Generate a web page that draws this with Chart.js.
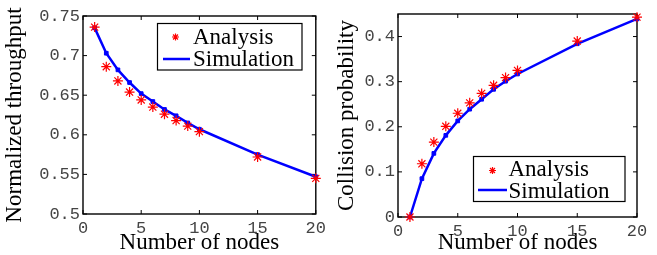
<!DOCTYPE html>
<html><head><meta charset="utf-8">
<script src="https://cdn.jsdelivr.net/npm/chart.js@4/dist/chart.umd.min.js"></script>
<style>
html,body{margin:0;padding:0;background:#fff;}
#wrap{position:relative;width:657px;height:255px;overflow:hidden;background:#fff;}
#c1{position:absolute;left:0;top:0;}
#c2{position:absolute;left:330px;top:0;}
</style></head><body>
<div id="wrap"><canvas id="c1" width="330" height="255"></canvas><canvas id="c2" width="327" height="255"></canvas></div>
<script>
// ---- data ----
const nodes = [1, 2, 3, 4, 5, 6, 7, 8, 9, 10, 15, 20];
const throughputAnalysis   = [0.736, 0.686, 0.668, 0.654, 0.644, 0.635, 0.626, 0.618, 0.611, 0.604, 0.572, 0.545];
const throughputSimulation = [0.735, 0.703, 0.682, 0.666, 0.652, 0.642, 0.632, 0.624, 0.615, 0.607, 0.575, 0.547];
const collisionAnalysis    = [0.000, 0.118, 0.166, 0.201, 0.230, 0.253, 0.274, 0.292, 0.309, 0.325, 0.390, 0.443];
const collisionSimulation  = [0.000, 0.085, 0.141, 0.181, 0.213, 0.239, 0.261, 0.283, 0.301, 0.317, 0.384, 0.439];
const xTickLabels = ['0', '5', '10', '15', '20'];
const throughputTickLabels = ['0.5', '0.55', '0.6', '0.65', '0.7', '0.75'];
const collisionTickLabels = ['0', '0.1', '0.2', '0.3', '0.4'];
const seriesNames = ['Analysis', 'Simulation'];
const xTitle = 'Number of nodes';
const throughputTitle = 'Normalized throughput';
const collisionTitle = 'Collision probability';

// ---- style ----
const MONO = "'Liberation Mono', 'Courier New', monospace";
const SERIF = "'Liberation Serif', 'Times New Roman', serif";
const RED = '#ff0000', BLUE = '#0000ff';

function pts(ys) { return nodes.map((n, i) => ({x: n, y: ys[i]})); }

function drawStar(ctx, x, y, r, lw, color) {
  ctx.save();
  ctx.strokeStyle = color; ctx.lineWidth = lw;
  ctx.beginPath();
  ctx.moveTo(x - r, y); ctx.lineTo(x + r, y);
  ctx.moveTo(x, y - r); ctx.lineTo(x, y + r);
  const d = r * Math.SQRT1_2;
  ctx.moveTo(x - d, y - d); ctx.lineTo(x + d, y + d);
  ctx.moveTo(x - d, y + d); ctx.lineTo(x + d, y - d);
  ctx.stroke();
  ctx.restore();
}

const frameTicks = {
  id: 'frameTicks',
  beforeDatasetsDraw(chart) {
    const {ctx, chartArea: a, scales: {x, y}} = chart;
    const L = 4;
    ctx.save();
    ctx.strokeStyle = '#000';
    ctx.lineWidth = 1;
    ctx.beginPath();
    x.ticks.forEach(t => {
      const px = x.getPixelForValue(t.value);
      ctx.moveTo(px, a.bottom); ctx.lineTo(px, a.bottom - L);
      ctx.moveTo(px, a.top); ctx.lineTo(px, a.top + L);
    });
    y.ticks.forEach(t => {
      const py = y.getPixelForValue(t.value);
      ctx.moveTo(a.left, py); ctx.lineTo(a.left + L, py);
      ctx.moveTo(a.right, py); ctx.lineTo(a.right - L, py);
    });
    ctx.stroke();
    ctx.lineWidth = 1.4;
    ctx.strokeRect(a.left, a.top, a.right - a.left, a.bottom - a.top);
    ctx.restore();
  }
};

const boxLegend = {
  id: 'boxLegend',
  afterDraw(chart, args, o) {
    const {ctx} = chart;
    const ds = chart.data.datasets;
    ctx.save();
    ctx.fillStyle = '#fff';
    ctx.fillRect(o.x, o.y, o.w, o.h);
    ctx.strokeStyle = '#000'; ctx.lineWidth = 1.2;
    ctx.strokeRect(o.x, o.y, o.w, o.h);
    drawStar(ctx, o.starX, o.starY, 3.5, 1.2, ds[0].borderColor);
    ctx.strokeStyle = ds[1].borderColor; ctx.lineWidth = 2.5;
    ctx.beginPath(); ctx.moveTo(o.lineX0, o.lineY); ctx.lineTo(o.lineX1, o.lineY); ctx.stroke();
    ctx.fillStyle = '#000';
    ctx.font = '23px ' + SERIF;
    ctx.textBaseline = 'alphabetic'; ctx.textAlign = 'left';
    ctx.fillText(ds[0].label, o.textX, o.base0);
    ctx.fillText(ds[1].label, o.textX, o.base1);
    ctx.restore();
  }
};

function makeChart(id, analysis, simulation, yMin, yMax, yStep, yLabels, yTitle, geom) {
  return new Chart(document.getElementById(id), {
    type: 'scatter',
    data: {
      datasets: [
        {label: seriesNames[0], data: pts(analysis), showLine: false, pointStyle: 'star',
         pointRadius: 5, pointBorderWidth: 1.2, borderColor: RED, backgroundColor: RED, clip: false},
        {label: seriesNames[1], data: pts(simulation), showLine: true, borderColor: BLUE, backgroundColor: BLUE,
         borderWidth: 2.5, pointStyle: 'rect', pointRadius: 2.6, pointBorderWidth: 1, tension: 0, clip: false}
      ]
    },
    options: {
      responsive: false, animation: false, devicePixelRatio: 1, events: [],
      layout: {padding: {top: geom.top, right: geom.right, left: 0, bottom: 0}},
      plugins: {legend: {display: false}, tooltip: {enabled: false}, boxLegend: geom.legend},
      scales: {
        x: {
          type: 'linear', position: 'bottom', min: 0, max: 20,
          grid: {display: false, drawTicks: false}, border: {display: false},
          ticks: {stepSize: 5, autoSkip: false, maxRotation: 0, padding: 4, color: '#444',
                  font: {family: MONO, size: 17}, callback: (v, i) => xTickLabels[i]},
          title: {display: true, text: xTitle, color: '#000', font: {family: SERIF, size: 23, lineHeight: 1},
                  padding: {top: 0, bottom: 0.5}},
          afterFit: s => { s.height = geom.xh; }
        },
        y: {
          type: 'linear', position: 'left', min: yMin, max: yMax,
          grid: {display: false, drawTicks: false}, border: {display: false},
          ticks: {stepSize: yStep, includeBounds: false, autoSkip: false, padding: 3, color: '#444',
                  font: {family: MONO, size: 17}, callback: (v, i) => yLabels[i]},
          title: {display: true, text: yTitle, color: '#000', font: {family: SERIF, size: 23, lineHeight: 1},
                  padding: {top: geom.ytp, bottom: 0}},
          afterFit: s => { s.width = geom.yw; }
        }
      }
    },
    plugins: [frameTicks, boxLegend]
  });
}

makeChart('c1', throughputAnalysis, throughputSimulation, 0.5, 0.75, 0.05, throughputTickLabels, throughputTitle,
  {top: 16, right: 11, xh: 41, yw: 83, ytp: 3.4,
   legend: {x: 157.5, y: 23.5, w: 144.5, h: 46.5, starX: 175.5, starY: 37, lineX0: 163, lineX1: 190, lineY: 59,
            textX: 193, base0: 43.5, base1: 65.5}});
makeChart('c2', collisionAnalysis, collisionSimulation, 0, 0.45, 0.1, collisionTickLabels, collisionTitle,
  {top: 14, right: 20, xh: 38, yw: 68, ytp: 5.5,
   legend: {x: 143.5, y: 156.5, w: 151.5, h: 45, starX: 162.5, starY: 170.5, lineX0: 148, lineX1: 177, lineY: 190,
            textX: 178.5, base0: 175.5, base1: 198}});
</script>
</body></html>
